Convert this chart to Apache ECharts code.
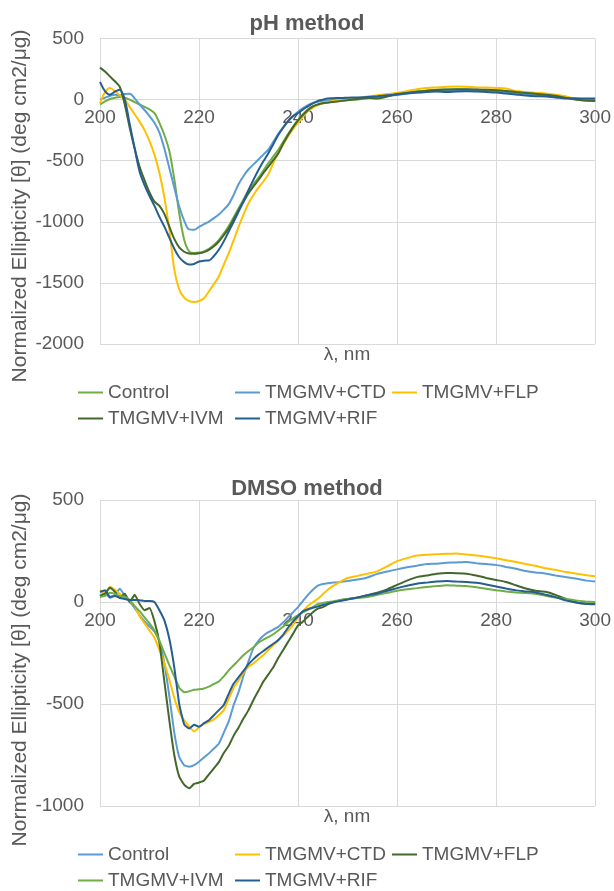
<!DOCTYPE html>
<html><head><meta charset="utf-8">
<script src="https://cdn.jsdelivr.net/npm/echarts@6/dist/echarts.min.js"></script>
<style>html,body{margin:0;padding:0;background:#fff}#c{width:614px;height:891px}</style>
</head><body><div id="c"></div><script>
const wavelengths = [200,201,202,203,204,205,206,207,208,209,210,211,212,213,214,215,216,217,218,219,220,221,222,223,224,225,226,227,228,229,230,231,232,233,234,235,236,237,238,239,240,241,242,243,244,245,246,247,248,249,250,
252,254,256,258,260,262,264,266,268,270,272,274,276,278,280,282,284,286,288,290,292,294,296,298,300];
const seriesNames = ['Control','TMGMV+CTD','TMGMV+FLP','TMGMV+IVM','TMGMV+RIF'];
const chartTitles = ['pH method','DMSO method'];
const xTickLabels = [200,220,240,260,280,300];
const yTicksPH = [-2000,-1500,-1000,-500,0,500];
const yTicksDMSO = [-1000,-500,0,500];

// pH method
const phControl = [-40,-15,5,15,22,15,0,-20,-40,-60,-80,-110,-190,-290,-420,-650,-930,-1147,-1242,-1255,-1252,-1242,-1222,-1190,-1150,-1095,-1035,-962,-888,-815,-745,-690,-640,-580,-520,-465,-410,-345,-280,-220,-165,-120,-80,-55,-40,-30,-22,-16,-10,-6,-3,
0,10,25,35,48,58,68,75,80,82,83,82,80,78,74,68,60,52,45,38,30,18,2,-8,-12];
const phCTD = [0,15,30,40,35,45,48,10,-40,-85,-135,-190,-270,-400,-560,-720,-875,-990,-1062,-1065,-1042,-1020,-998,-970,-940,-900,-855,-780,-690,-625,-570,-530,-490,-450,-410,-345,-280,-225,-175,-135,-100,-70,-45,-28,-18,-10,-5,-2,0,2,4,
5,12,20,28,38,48,58,65,70,74,76,76,74,72,68,62,55,48,40,33,25,15,5,0,0];
const phFLP = [-30,60,95,70,35,0,-60,-120,-180,-250,-340,-450,-600,-800,-1060,-1390,-1555,-1620,-1648,-1656,-1648,-1625,-1570,-1510,-1447,-1350,-1256,-1150,-1040,-940,-848,-780,-720,-670,-610,-520,-440,-370,-300,-240,-190,-140,-95,-65,-45,-30,-20,-12,-6,-2,2,
10,25,35,45,55,70,85,95,100,105,108,105,100,98,95,90,70,62,55,50,40,28,5,-8,-12];
const phIVM = [262,230,190,150,105,-40,-230,-400,-549,-660,-760,-835,-870,-935,-1040,-1140,-1210,-1245,-1260,-1262,-1258,-1248,-1229,-1200,-1161,-1110,-1052,-980,-903,-835,-767,-710,-658,-600,-549,-495,-440,-360,-290,-225,-170,-125,-85,-55,-40,-30,-25,-20,-15,-10,-5,
5,15,8,25,45,55,65,72,78,82,85,85,83,80,76,70,62,55,48,40,32,15,0,-8,-12];
const phRIF = [145,70,40,65,80,0,-200,-400,-590,-700,-790,-870,-960,-1040,-1130,-1220,-1290,-1330,-1350,-1345,-1325,-1318,-1316,-1280,-1229,-1160,-1079,-1000,-916,-830,-739,-655,-576,-505,-440,-365,-290,-230,-175,-135,-110,-80,-55,-30,-10,0,10,12,13,14,15,
18,22,28,35,42,52,58,62,66,62,66,68,66,62,58,50,42,34,28,25,18,10,12,8,10];

// DMSO method
const dmsoControl = [30,45,20,35,65,30,0,-30,-65,-95,-120,-145,-195,-300,-460,-640,-760,-800,-807,-800,-783,-762,-742,-718,-695,-640,-585,-505,-440,-360,-290,-225,-190,-165,-148,-135,-122,-100,-75,-50,-25,5,35,60,80,88,92,95,97,100,103,
110,120,138,150,160,170,178,186,188,192,194,196,190,186,182,172,163,152,145,140,130,122,115,106,101];
const dmsoCTD = [60,45,75,60,40,20,5,-20,-70,-105,-140,-175,-235,-300,-380,-470,-540,-580,-610,-635,-615,-598,-588,-575,-555,-530,-475,-420,-385,-345,-318,-300,-280,-260,-235,-212,-190,-165,-140,-112,-75,-45,-20,0,16,38,60,78,92,106,118,
128,139,150,175,200,215,228,232,234,236,238,233,228,222,214,205,196,186,178,165,158,147,140,132,126];
const dmsoFLP = [30,40,70,50,20,40,0,35,-10,-40,-30,-95,-200,-390,-580,-750,-856,-895,-913,-892,-885,-875,-845,-815,-785,-740,-705,-655,-615,-570,-530,-480,-435,-390,-355,-320,-275,-235,-195,-155,-115,-95,-72,-50,-33,-25,-12,-2,5,10,14,
22,33,45,62,84,105,122,130,138,142,141,139,130,118,108,98,82,66,55,50,35,16,0,-8,-8];
const dmsoIVM = [25,30,45,40,30,25,10,-20,-45,-75,-105,-140,-190,-250,-310,-365,-420,-442,-438,-430,-428,-424,-415,-402,-390,-365,-335,-310,-285,-260,-240,-222,-200,-185,-172,-158,-140,-120,-98,-80,-64,-50,-38,-25,-10,-5,0,3,8,12,15,
20,24,35,45,55,62,68,74,78,82,80,78,72,65,58,52,47,44,40,30,22,16,8,3,0];
const dmsoRIF = [49,57,25,30,20,15,10,10,8,5,5,0,-40,-90,-180,-320,-500,-600,-620,-602,-611,-594,-580,-555,-530,-505,-450,-400,-368,-338,-305,-280,-258,-240,-222,-205,-186,-160,-125,-95,-70,-45,-35,-28,-22,-15,-8,-2,3,7,12,
22,33,42,55,68,80,90,95,100,103,100,98,94,86,76,66,57,52,47,36,24,8,-2,-8,-11];

const LGREEN='#70ad47', LBLUE='#5b9bd5', GOLD='#ffc000', DGREEN='#43682b', DBLUE='#255e91';
const phColors = [LGREEN, LBLUE, GOLD, DGREEN, DBLUE];
const dmsoColors = [LBLUE, GOLD, DGREEN, LGREEN, DBLUE];
const phData = [phControl, phCTD, phFLP, phIVM, phRIF];
const dmsoData = [dmsoControl, dmsoCTD, dmsoFLP, dmsoIVM, dmsoRIF];

const FONT = "'Liberation Sans', Arial, sans-serif";
const TXT = '#595959';
const GRID = '#d9d9d9';

function pairs(vals){ return wavelengths.map((w,i)=>[w, vals[i]]); }

const series = [];
seriesNames.forEach((n,i)=>{
  series.push({name:'pH:'+n, type:'line', xAxisIndex:0, yAxisIndex:0, data:pairs(phData[i]),
    showSymbol:false, smooth:0.3, lineStyle:{width:2, color:phColors[i]}, itemStyle:{color:phColors[i]}});
});
seriesNames.forEach((n,i)=>{
  series.push({name:'DMSO:'+n, type:'line', xAxisIndex:1, yAxisIndex:1, data:pairs(dmsoData[i]),
    showSymbol:false, smooth:0.15, lineStyle:{width:2, color:dmsoColors[i]}, itemStyle:{color:dmsoColors[i]}});
});

const legendPos = [[78,0],[235,0],[392,0],[78,1],[235,1]];
const legends = [];
[['pH',383,409],['DMSO',845,871]].forEach(([p,r0,r1])=>{
  seriesNames.forEach((n,i)=>{
    legends.push({data:[p+':'+n], left:legendPos[i][0], top:legendPos[i][1]?r1:r0, padding:0,
      icon:'rect', itemWidth:25, itemHeight:2, selectedMode:false,
      formatter:(name)=>name.split(':')[1],
      textStyle:{fontSize:19, color:TXT, fontFamily:FONT}});
  });
});

const grids = [
  {left:100, top:38.5, width:500, height:305.5},
  {left:100, top:500, width:500, height:306}
];
const yRanges = [[yTicksPH[0], yTicksPH[yTicksPH.length-1]], [yTicksDMSO[0], yTicksDMSO[yTicksDMSO.length-1]]];

function xAxis(gi){
  // axis drawn where y = 0 (Excel style crossing)
  const [mn, mx] = yRanges[gi];
  const off = -grids[gi].height * (0 - mn) / (mx - mn);
  return {type:'value', gridIndex:gi, min:200, max:300, interval:20, position:'bottom', offset:off,
    axisLine:{show:true, onZero:false, lineStyle:{color:GRID, width:1}},
    axisTick:{show:false},
    axisLabel:{fontSize:19, color:TXT, fontFamily:FONT, margin:9},
    splitLine:{show:true, lineStyle:{color:GRID, width:1}}};
}
function yAxis(gi){
  return {type:'value', gridIndex:gi, min:yRanges[gi][0], max:yRanges[gi][1], interval:500,
    axisLine:{show:false}, axisTick:{show:false},
    axisLabel:{fontSize:19, color:TXT, fontFamily:FONT, margin:16, formatter:(v)=>String(v)},
    splitLine:{show:true, lineStyle:{color:GRID, width:1}}};
}

const yName = 'Normalized Ellipticity [θ] (deg cm2/μg)';
const option = {
  animation:false,
  backgroundColor:'#fff',
  title:[
    {text:chartTitles[0], left:'center', top:8, textStyle:{fontSize:22, fontWeight:'bold', color:TXT, fontFamily:FONT}},
    {text:chartTitles[1], left:'center', top:473, textStyle:{fontSize:22, fontWeight:'bold', color:TXT, fontFamily:FONT}}
  ],
  grid:grids,
  xAxis:[xAxis(0), xAxis(1)],
  yAxis:[yAxis(0), yAxis(1)],
  legend:legends,
  graphic:[
    {type:'text', x:20, y:206, rotation:Math.PI/2, style:{text:yName, fontSize:21, fill:TXT, fontFamily:FONT, align:'center', verticalAlign:'middle'}},
    {type:'text', x:20, y:670, rotation:Math.PI/2, style:{text:yName, fontSize:21, fill:TXT, fontFamily:FONT, align:'center', verticalAlign:'middle'}},
    {type:'text', x:347, y:355, style:{text:'λ, nm', fontSize:19, fill:TXT, fontFamily:FONT, align:'center', verticalAlign:'middle'}},
    {type:'text', x:347, y:817, style:{text:'λ, nm', fontSize:19, fill:TXT, fontFamily:FONT, align:'center', verticalAlign:'middle'}}
  ],
  series:series
};
const chart = echarts.init(document.getElementById('c'), null, {renderer:'canvas'});
chart.setOption(option);
</script></body></html>
